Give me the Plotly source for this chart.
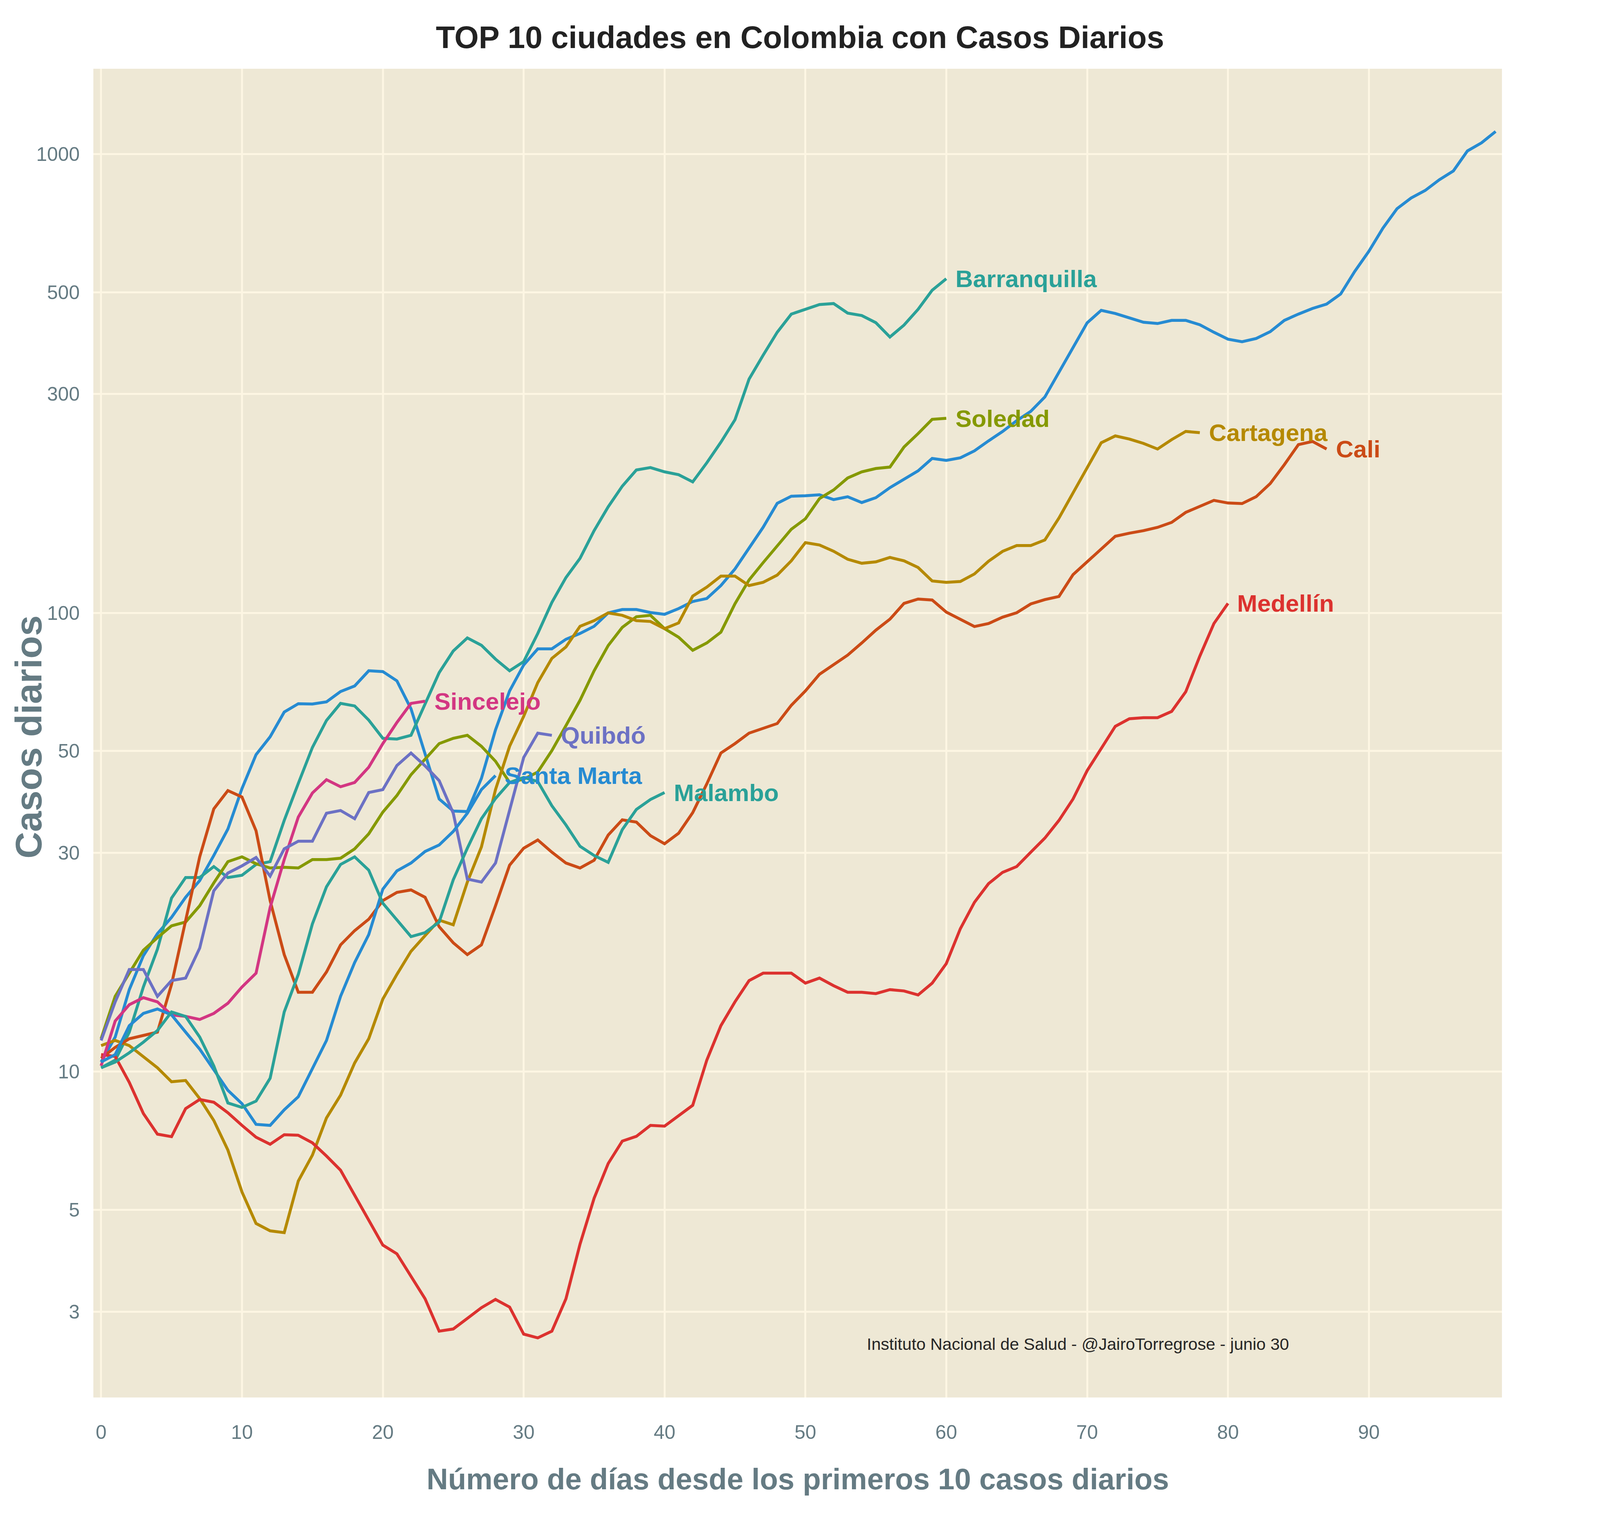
import math
import plotly.graph_objects as go

# Casos diarios (media movil) por ciudad, dia 0 = primeros 10 casos diarios
ciudades = ["Bogotá", "Barranquilla", "Soledad", "Cartagena", "Cali",
            "Medellín", "Sincelejo", "Quibdó", "Santa Marta", "Malambo"]

bogota = [10.5, 11.9, 15.1, 17.9, 20.0, 21.7, 24.0, 26.1, 29.6, 33.8,
          41.4, 49.1, 53.7, 60.8, 63.4, 63.3, 64.0, 67.4, 69.3, 74.8,
          74.5, 71.1, 61.8, 49.3, 39.3, 37.0, 36.9, 43.6, 55.6, 67.6,
          77.0, 83.5, 83.5, 87.6, 90.2, 93.5, 100.0, 101.7, 101.7, 100.2,
          99.3, 102.2, 105.9, 107.5, 114.7, 124.7, 138.2, 153.7, 173.3, 179.6,
          180.0, 180.9, 176.6, 179.1, 174.0, 178.3, 187.5, 195.8, 204.0, 217.1,
          215.0, 217.8, 225.5, 237.1, 248.6, 262.4, 275.0, 295.6, 334.2, 380.3,
          428.7, 456.5, 449.3, 439.5, 430.0, 427.3, 434.1, 434.1, 424.6, 408.9,
          395.0, 390.0, 396.3, 410.2, 434.1, 448.0, 460.9, 471.1, 495.5, 555.0,
          613.8, 689.7, 760.3, 802.2, 833.1, 879.0, 918.7, 1016, 1058, 1120]

barranquilla = [10.2, 10.6, 12.2, 15.3, 18.5, 23.9, 26.5, 26.5, 28.0, 26.5,
                26.8, 28.3, 28.7, 35.3, 42.5, 50.9, 58.3, 63.5, 62.7, 58.4,
                53.3, 53.1, 54.1, 63.5, 74.1, 82.6, 88.2, 85.0, 79.3, 74.8,
                78.3, 90.2, 105.4, 119.4, 131.5, 151.1, 170.3, 188.9, 204.9, 207.4,
                203.0, 200.1, 193.0, 212.4, 235.5, 263.6, 323.3, 364.5, 409.0, 448.0,
                458.9, 470.0, 472.3, 450.2, 444.8, 429.1, 399.3, 424.0, 458.9, 505.0,
                535.0]

soledad = [11.8, 14.6, 16.4, 18.4, 19.6, 20.8, 21.2, 23.0, 25.8, 28.7,
           29.4, 28.4, 27.8, 27.9, 27.8, 29.0, 29.0, 29.2, 30.6, 33.0,
           36.8, 40.0, 44.4, 48.1, 51.9, 53.3, 54.1, 51.2, 47.5, 42.7,
           43.4, 45.0, 50.1, 56.8, 64.5, 74.8, 84.9, 93.0, 98.1, 98.8,
           92.4, 88.5, 82.9, 86.0, 90.8, 104.7, 118.0, 128.7, 139.6, 152.2,
           160.4, 177.5, 185.3, 196.8, 203.0, 206.4, 207.9, 229.9, 245.9, 264.2,
           265.5]

cartagena = [11.4, 11.7, 11.4, 10.8, 10.2, 9.51, 9.57, 8.74, 7.83, 6.75,
             5.47, 4.67, 4.50, 4.46, 5.78, 6.58, 7.93, 8.89, 10.45, 11.8,
             14.4, 16.3, 18.3, 19.8, 21.4, 20.9, 25.9, 30.9, 41.2, 51.2,
             59.5, 70.5, 79.6, 84.3, 93.5, 96.2, 100.0, 98.8, 96.2, 95.8,
             92.4, 95.1, 108.8, 113.8, 120.3, 120.3, 114.7, 116.6, 120.9, 129.9,
             142.3, 140.6, 136.3, 130.9, 128.3, 129.2, 132.1, 129.9, 125.6, 117.4,
             116.6, 117.1, 121.6, 129.6, 136.2, 140.2, 140.2, 144.2, 161.0, 182.6,
             207.7, 234.9, 243.1, 239.3, 234.1, 227.6, 238.6, 248.6, 247.1]

cali = [10.7, 11.3, 11.8, 12.0, 12.2, 15.5, 21.5, 29.4, 37.4, 41.0,
        39.7, 33.5, 23.6, 18.0, 14.9, 14.9, 16.5, 18.9, 20.3, 21.5,
        23.6, 24.6, 24.9, 24.0, 20.7, 19.1, 18.0, 18.9, 23.0, 28.2,
        30.7, 32.0, 30.1, 28.5, 27.8, 28.9, 32.8, 35.4, 35.0, 32.7,
        31.4, 33.1, 36.7, 42.4, 49.5, 51.9, 54.7, 56.1, 57.4, 62.9,
        67.6, 73.5, 77.2, 80.9, 86.0, 91.7, 96.9, 104.9, 107.2, 106.7,
        100.4, 96.7, 93.4, 94.8, 97.9, 100.1, 104.6, 106.9, 108.6, 121.2,
        129.1, 137.5, 146.9, 149.2, 151.1, 153.6, 157.5, 165.6, 170.4, 175.9,
        173.6, 173.1, 179.2, 191.4, 210.4, 232.7, 236.4, 227.6]

medellin = [10.9, 10.8, 9.48, 8.11, 7.31, 7.22, 8.31, 8.70, 8.58, 8.14,
            7.64, 7.20, 6.95, 7.29, 7.27, 7.00, 6.55, 6.10, 5.38, 4.75,
            4.19, 4.01, 3.59, 3.20, 2.72, 2.75, 2.90, 3.06, 3.19, 3.07,
            2.68, 2.63, 2.72, 3.20, 4.21, 5.30, 6.31, 7.06, 7.23, 7.64,
            7.61, 8.02, 8.45, 10.6, 12.6, 14.2, 15.8, 16.4, 16.4, 16.4,
            15.6, 16.0, 15.4, 14.9, 14.9, 14.8, 15.1, 15.0, 14.7, 15.6,
            17.2, 20.5, 23.4, 25.7, 27.2, 28.0, 30.1, 32.3, 35.3, 39.3,
            45.3, 50.5, 56.6, 58.8, 59.1, 59.1, 61.0, 67.3, 80.5, 94.8,
            104.9]

sincelejo = [10.3, 12.9, 14.0, 14.5, 14.2, 13.3, 13.2, 13.0, 13.4, 14.1,
             15.3, 16.4, 22.8, 29.0, 35.9, 40.5, 43.3, 41.8, 42.7, 46.1,
             51.9, 57.7, 63.5, 64.2]

quibdo = [11.7, 14.2, 16.7, 16.7, 14.6, 15.8, 16.0, 18.6, 24.8, 27.1,
          28.1, 29.3, 26.7, 30.6, 31.8, 31.8, 36.6, 37.1, 35.6, 40.6,
          41.2, 46.5, 49.5, 46.4, 43.1, 36.6, 26.3, 25.9, 28.5, 37.2,
          48.4, 54.7, 54.1]

santa_marta = [10.5, 10.9, 12.6, 13.4, 13.7, 13.3, 12.2, 11.2, 10.1, 9.11,
               8.52, 7.68, 7.64, 8.26, 8.82, 10.2, 11.7, 14.6, 17.3, 19.9,
               25.0, 27.4, 28.5, 30.2, 31.2, 33.4, 36.6, 41.2, 44.2]

malambo = [10.2, 10.5, 11.0, 11.6, 12.3, 13.5, 13.2, 11.9, 10.3, 8.55,
           8.36, 8.63, 9.68, 13.5, 16.3, 21.0, 25.3, 28.3, 29.4, 27.5,
           23.3, 21.4, 19.7, 20.1, 21.2, 26.2, 30.7, 35.6, 39.4, 42.7,
           43.8, 42.9, 38.0, 34.5, 31.0, 29.6, 28.6, 33.7, 37.3, 39.2,
           40.6]

series = [bogota, barranquilla, soledad, cartagena, cali,
          medellin, sincelejo, quibdo, santa_marta, malambo]

x_ticks = [0, 10, 20, 30, 40, 50, 60, 70, 80, 90]
y_ticks = [3, 5, 10, 30, 50, 100, 300, 500, 1000]

# ciclo de colores tipo "Solarize_Light2"
palette = ['#268BD2', '#2AA198', '#859900', '#B58900',
           '#CB4B16', '#DC322F', '#D33682', '#6C71C4']

FONT = "Liberation Sans, Arial, sans-serif"
MUTED = '#657B83'

# la ventana real mide 4096 px de ancho: margenes horizontales escalados
SX = 4096 / 7052

fig = go.Figure()
annotations = []

for i, (name, vals) in enumerate(zip(ciudades, series)):
    color = palette[i % len(palette)]
    days = list(range(len(vals)))
    fig.add_trace(go.Scatter(
        x=days, y=vals, mode='lines', name=name,
        line=dict(color=color, width=7.5),
        hoverinfo='skip'
    ))
    # etiqueta al final de cada curva
    annotations.append(dict(
        x=days[-1] + 0.6, y=math.log10(vals[-1]),
        xref='x', yref='y', text=name, showarrow=False,
        xanchor='left', yanchor='middle',
        font=dict(family=FONT, size=62, color=color, weight='bold')
    ))

# fuente de los datos
annotations.append(dict(
    x=54.3, y=math.log10(2.55), xref='x', yref='y',
    text="Instituto Nacional de Salud - @JairoTorregrose - junio 30",
    showarrow=False, xanchor='left', yanchor='middle',
    font=dict(family=FONT, size=43, color='#262626')
))

# titulos de ejes
annotations.append(dict(
    x=0.5, y=-0.0614, xref='paper', yref='paper',
    text="Número de días desde los primeros 10 casos diarios",
    showarrow=False, xanchor='center', yanchor='middle',
    font=dict(family=FONT, size=76, color=MUTED, weight='bold')
))
annotations.append(dict(
    x=-0.046, y=0.497, xref='paper', yref='paper',
    text="Casos diarios", textangle=-90,
    showarrow=False, xanchor='center', yanchor='middle',
    font=dict(family=FONT, size=95, color=MUTED, weight='bold')
))

fig.update_layout(
    autosize=True,
    margin=dict(l=round(412 * SX), r=round(432 * SX), t=176, b=329),
    paper_bgcolor='white',
    plot_bgcolor='#EEE8D5',
    showlegend=False,
    title=dict(
        text="TOP 10 ciudades en Colombia con Casos Diarios",
        x=0.5, xanchor='center', y=0.9757, yanchor='middle',
        font=dict(family=FONT, size=80, color='#222222', weight='bold')
    ),
    annotations=annotations,
    xaxis=dict(
        range=[-0.55, 99.45],
        tickvals=x_ticks,
        showgrid=True, gridcolor='#FDF6E3', gridwidth=5,
        zeroline=False, showline=False, ticks='',
        ticklabelstandoff=55,
        tickfont=dict(family=FONT, size=50, color=MUTED)
    ),
    yaxis=dict(
        type='log',
        range=[0.290, 3.186],
        tickvals=y_ticks,
        ticktext=[str(v) for v in y_ticks],
        showgrid=True, gridcolor='#FDF6E3', gridwidth=5,
        zeroline=False, showline=False, ticks='',
        ticklabelstandoff=34,
        tickfont=dict(family=FONT, size=50, color=MUTED)
    )
)

fig.write_html("out.html", default_width="100vw", default_height="100vh",
               config={'displayModeBar': False},
               post_script="document.body.style.margin='0px';")
